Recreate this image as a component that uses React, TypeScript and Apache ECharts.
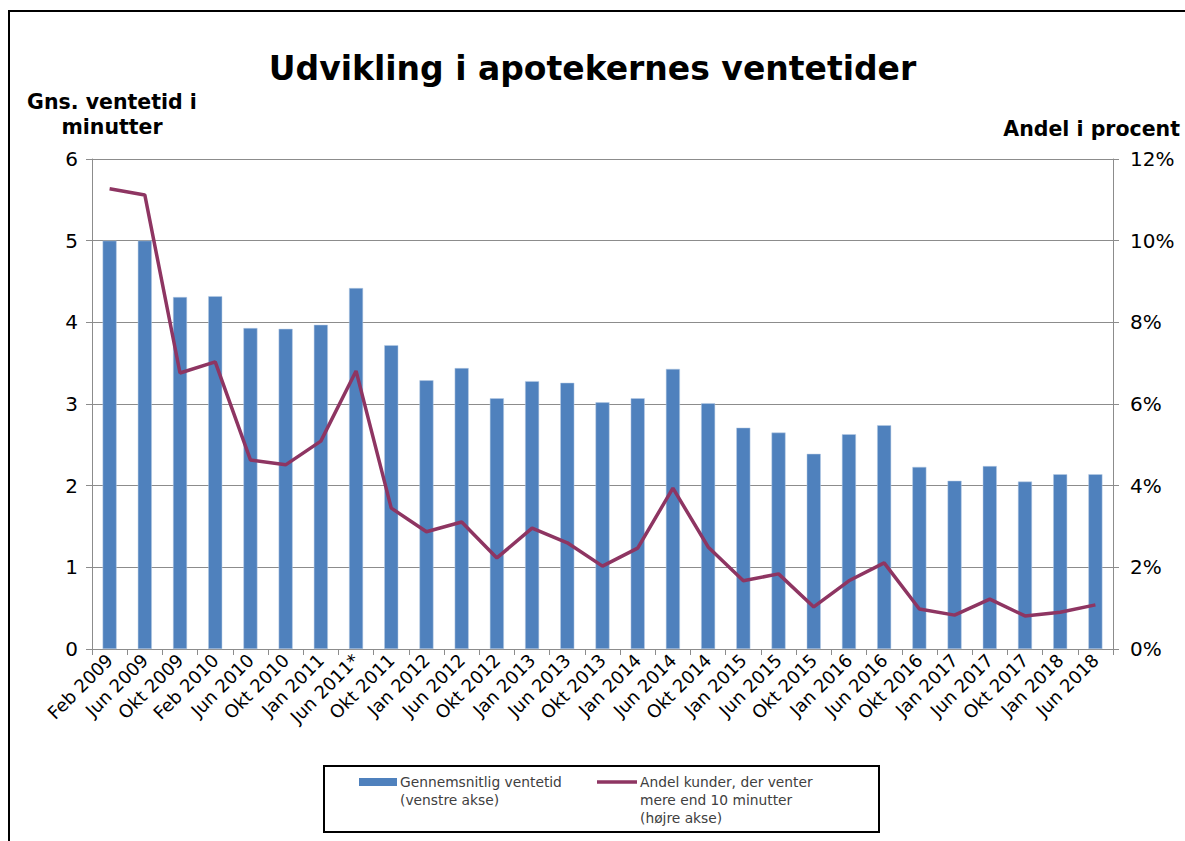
import React, { useEffect, useRef } from "react";
import * as echarts from "echarts";

const categories = [
  "Feb 2009", "Jun 2009", "Okt 2009", "Feb 2010", "Jun 2010", "Okt 2010", "Jan 2011", "Jun 2011*",
  "Okt 2011", "Jan 2012", "Jun 2012", "Okt 2012", "Jan 2013", "Jun 2013", "Okt 2013", "Jan 2014",
  "Jun 2014", "Okt 2014", "Jan 2015", "Jun 2015", "Okt 2015", "Jan 2016", "Jun 2016", "Okt 2016",
  "Jan 2017", "Jun 2017", "Okt 2017", "Jan 2018", "Jun 2018",
];

const avgWait = [
  5.0, 5.0, 4.31, 4.32, 3.93, 3.92, 3.97, 4.42,
  3.72, 3.29, 3.44, 3.07, 3.28, 3.26, 3.02, 3.07,
  3.43, 3.01, 2.71, 2.65, 2.39, 2.63, 2.74, 2.23,
  2.06, 2.24, 2.05, 2.14, 2.14,
];

const shareOver10 = [
  11.27, 11.12, 6.76, 7.03, 4.63, 4.51, 5.09, 6.81,
  3.45, 2.87, 3.11, 2.23, 2.96, 2.6, 2.03, 2.47,
  3.94, 2.5, 1.67, 1.84, 1.03, 1.67, 2.11, 0.98,
  0.83, 1.22, 0.81, 0.9, 1.08,
];

const seriesNames = [
  "Gennemsnitlig ventetid\n(venstre akse)",
  "Andel kunder, der venter\nmere end 10 minutter\n(højre akse)",
];

const title = "Udvikling i apotekernes ventetider";
const leftAxisName = "Gns. ventetid i\nminutter";
const rightAxisName = "Andel i procent";

const BAR = "#4F81BD";
const LINE = "#8E3562";
const FONT = "'DejaVu Sans', Verdana, sans-serif";

export default function App() {
  const ref = useRef<HTMLDivElement>(null);
  useEffect(() => {
    if (!ref.current) return;
    const chart = echarts.init(ref.current, null, { renderer: "svg" });
    chart.setOption({
      animation: false,
      backgroundColor: "#fff",
      textStyle: { fontFamily: FONT },
      grid: { left: 92, right: 72, top: 159, bottom: 192, containLabel: false },
      xAxis: {
        type: "category",
        data: categories,
        axisLine: { show: true, lineStyle: { color: "#8c8c8c", width: 1 } },
        axisTick: { show: true, alignWithLabel: false, length: 6, lineStyle: { color: "#8c8c8c" } },
        axisLabel: { interval: 0, rotate: 45, fontSize: 18, color: "#000", fontFamily: FONT, margin: 8 },
      },
      yAxis: [
        {
          type: "value",
          min: 0,
          max: 6,
          interval: 1,
          axisLine: { show: true, lineStyle: { color: "#8c8c8c" } },
          axisTick: { show: true, length: 6, lineStyle: { color: "#8c8c8c" } },
          axisLabel: { fontSize: 20, color: "#000", margin: 14, fontFamily: FONT },
          splitLine: { show: true, lineStyle: { color: "#8c8c8c", width: 1 } },
        },
        {
          type: "value",
          min: 0,
          max: 12,
          interval: 2,
          position: "right",
          axisLine: { show: true, lineStyle: { color: "#8c8c8c" } },
          axisTick: { show: true, length: 6, lineStyle: { color: "#8c8c8c" } },
          axisLabel: { fontSize: 20, color: "#000", margin: 17, formatter: "{value}%", fontFamily: FONT },
          splitLine: { show: false },
        },
      ],
      series: [
        {
          name: seriesNames[0],
          type: "bar",
          data: avgWait,
          yAxisIndex: 0,
          barWidth: 14,
          itemStyle: { color: BAR, borderColor: "#B9CDE5", borderWidth: 0.5 },
        },
        {
          name: seriesNames[1],
          type: "line",
          data: shareOver10,
          yAxisIndex: 1,
          symbol: "none",
          lineStyle: { color: LINE, width: 3.5 },
          itemStyle: { color: LINE },
        },
      ],
      graphic: [
        {
          type: "rect",
          silent: true,
          shape: { x: 9, y: 11, width: 1250, height: 900 },
          style: { fill: "none", stroke: "#000", lineWidth: 2 },
        },
        {
          type: "text",
          left: "center",
          top: 52,
          style: {
            text: title,
            font: "bold 33px 'DejaVu Sans', sans-serif",
            fill: "#000",
          },
        },
        {
          type: "text",
          x: 112,
          y: 89,
          style: {
            text: leftAxisName,
            font: "bold 20.5px " + FONT,
            fill: "#000",
            align: "center",
            lineHeight: 25,
          },
        },
        {
          type: "text",
          x: 1180,
          y: 118,
          style: {
            text: rightAxisName,
            font: "bold 20.5px " + FONT,
            fill: "#000",
            align: "right",
          },
        },
        {
          type: "rect",
          silent: true,
          shape: { x: 324, y: 766, width: 555, height: 66 },
          style: { fill: "#fff", stroke: "#000", lineWidth: 2 },
        },
        {
          type: "rect",
          shape: { x: 359, y: 778, width: 38, height: 8 },
          style: { fill: BAR },
        },
        {
          type: "text",
          x: 400,
          y: 773,
          style: {
            text: seriesNames[0],
            font: "13.8px " + FONT,
            fill: "#404040",
            lineHeight: 18,
          },
        },
        {
          type: "line",
          shape: { x1: 597, y1: 782, x2: 637, y2: 782 },
          style: { stroke: LINE, lineWidth: 3.5 },
        },
        {
          type: "text",
          x: 640,
          y: 773,
          style: {
            text: seriesNames[1],
            font: "13.8px " + FONT,
            fill: "#404040",
            lineHeight: 18,
          },
        },
      ],
    });
    return () => chart.dispose();
  }, []);
  return (
    <div
      ref={ref}
      style={{ position: "absolute", left: 0, top: 0, width: 1185, height: 841 }}
    />
  );
}
